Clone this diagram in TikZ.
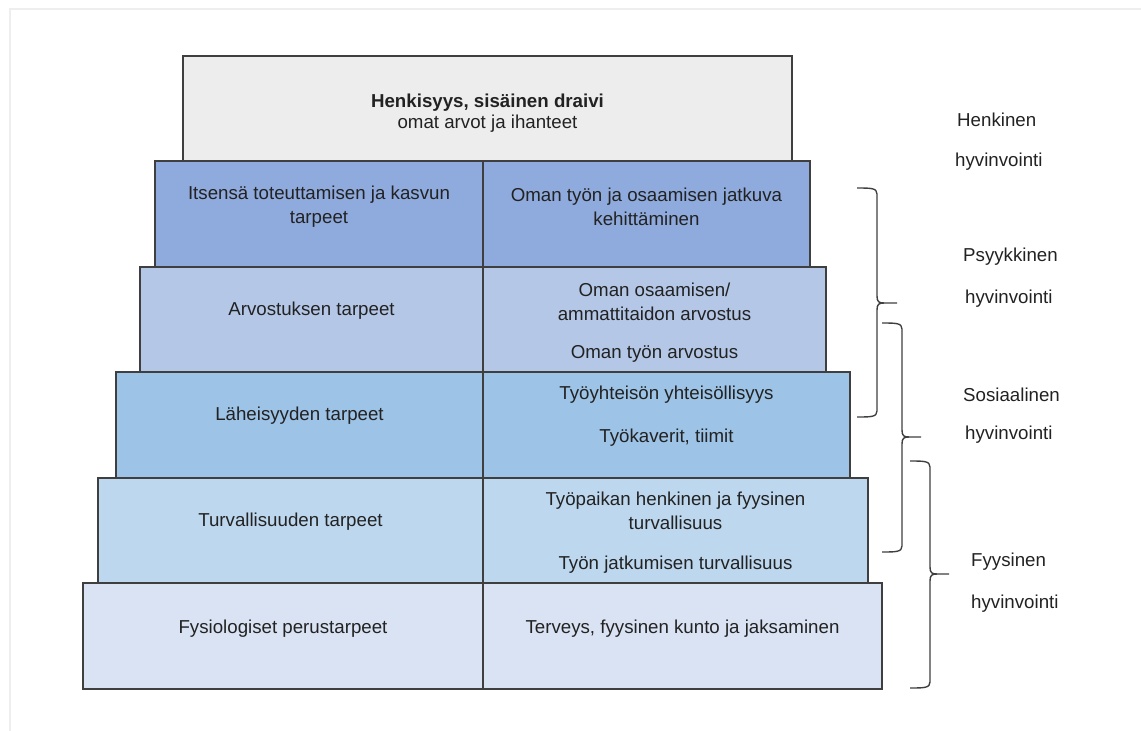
\documentclass[tikz,border=0pt]{standalone}
\usepackage{fontspec}
\setmainfont{Liberation Sans}
\definecolor{edge}{HTML}{3F3F3F}
\definecolor{frame}{HTML}{EEEEEE}
\definecolor{ctop}{HTML}{EDEDED}
\definecolor{cone}{HTML}{8FAADC}
\definecolor{ctwo}{HTML}{B4C7E7}
\definecolor{cthree}{HTML}{9DC3E6}
\definecolor{cfour}{HTML}{BDD7EE}
\definecolor{cfive}{HTML}{DAE3F3}
\definecolor{txt}{HTML}{222222}
\begin{document}
\begin{tikzpicture}[x=1pt,y=-1pt,
  box/.style={draw=edge,line width=1.4pt},
  celltext/.style={inner sep=0pt,align=center,text=txt,yshift=-2pt,font=\fontsize{18.7}{24}\selectfont},
  sidetext/.style={inner sep=0pt,anchor=west,text=txt,yshift=-2pt,font=\fontsize{18.7}{24}\selectfont},
  bracepath/.style={draw=edge,line width=1.4pt}]
\useasboundingbox (0,0) rectangle (1141,731);
\draw[frame,line width=2pt] (1141,9) -- (10,9) -- (10,731);
% boxes
\draw[box,fill=ctop] (183,56) rectangle (792,161);
\draw[box,fill=cone] (155,161) rectangle (810,267);
\draw[box,fill=ctwo] (140,267) rectangle (826,372);
\draw[box,fill=cthree] (116,372) rectangle (850,478);
\draw[box,fill=cfour] (98,478) rectangle (868,583);
\draw[box,fill=cfive] (83,583) rectangle (882,689);
\foreach \a/\b in {161/267,267/372,372/478,478/583,583/689}
  \draw[box] (483,\a) -- (483,\b);
% texts
\node[celltext,font=\fontsize{18.7}{21}\selectfont] (top) at (487.5,111) {\textbf{Henkisyys, sisäinen draivi}\\omat arvot ja ihanteet};
\node[celltext] (l1) at (319,205) {Itsensä toteuttamisen ja kasvun\\tarpeet};
\node[celltext] (r1) at (646.5,205) {Oman työn ja osaamisen jatkuva\\kehittäminen};
\node[celltext] (l2) at (311.5,309) {Arvostuksen tarpeet};
\node[celltext] (r2a) at (654.5,300) {Oman osaamisen/\\ammattitaidon arvostus};
\node[celltext] (r2b) at (654.5,352) {Oman työn arvostus};
\node[celltext] (l3) at (299.5,414) {Läheisyyden tarpeet};
\node[celltext] (r3a) at (666.5,393) {Työyhteisön yhteisöllisyys};
\node[celltext] (r3b) at (666.5,436) {Työkaverit, tiimit};
\node[celltext] (l4) at (290.5,520) {Turvallisuuden tarpeet};
\node[celltext] (r4a) at (675.5,509) {Työpaikan henkinen ja fyysinen\\turvallisuus};
\node[celltext] (r4b) at (675.5,563) {Työn jatkumisen turvallisuus};
\node[celltext] (l5) at (283,627) {Fysiologiset perustarpeet};
\node[celltext] (r5) at (682.5,627) {Terveys, fyysinen kunto ja jaksaminen};
% side labels
\node[sidetext] (s1a) at (957,118) {Henkinen};
\node[sidetext] (s1b) at (955,160) {hyvinvointi};
\node[sidetext] (s2a) at (963,255) {Psyykkinen};
\node[sidetext] (s2b) at (965,297) {hyvinvointi};
\node[sidetext] (s3a) at (963,393) {Sosiaalinen};
\node[sidetext] (s3b) at (965,433) {hyvinvointi};
\node[sidetext] (s4a) at (971,560) {Fyysinen};
\node[sidetext] (s4b) at (971,602) {hyvinvointi};
% braces
\foreach \xa/\xb/\xt/\ya/\ym/\yb in {857/877/897/188/303/417, 882/902/921/323/437/552, 910/930/949/461/574/688}{
  \draw[bracepath] (\xa,\ya) .. controls (\xb-6,\ya) and (\xb,\ya) .. (\xb,\ya+6)
    -- (\xb,\ym-7) .. controls (\xb,\ym-1) and (\xb+2,\ym) .. (\xb+7,\ym) -- (\xt,\ym);
  \draw[bracepath] (\xb+7,\ym) .. controls (\xb+2,\ym) and (\xb,\ym+1) .. (\xb,\ym+7)
    -- (\xb,\yb-6) .. controls (\xb,\yb) and (\xb-6,\yb) .. (\xa,\yb);
}
\end{tikzpicture}
\end{document}
